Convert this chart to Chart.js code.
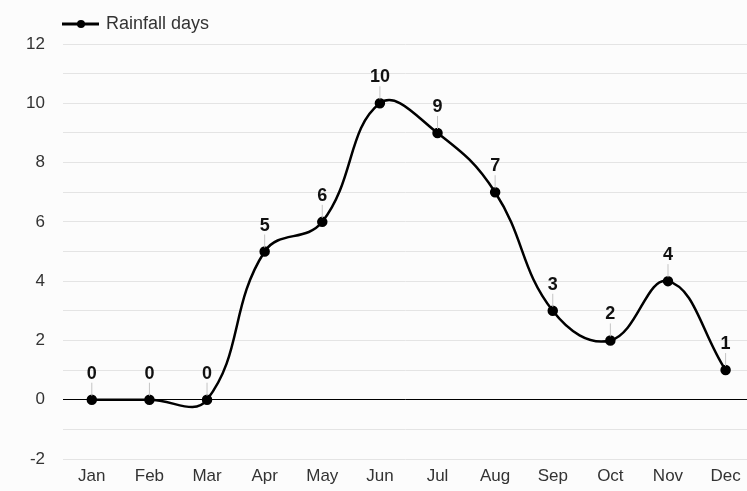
<!DOCTYPE html>
<html lang="en">
<head>
<meta charset="UTF-8">
<title>Rainfall days</title>
<script src="https://cdn.jsdelivr.net/npm/chart.js"></script>
<style>
  html, body { margin: 0; padding: 0; background: #fcfcfc; overflow: hidden; }
  #wrap { width: 747px; height: 491px; overflow: hidden; }
</style>
</head>
<body>
<div id="wrap"><canvas id="chart" width="754" height="491"></canvas></div>
<script>
// data
const months = ['Jan', 'Feb', 'Mar', 'Apr', 'May', 'Jun', 'Jul', 'Aug', 'Sep', 'Oct', 'Nov', 'Dec'];
const rainfallDays = [0, 0, 0, 5, 6, 10, 9, 7, 3, 2, 4, 1];
const seriesLabel = 'Rainfall days';

const FONT = '"Liberation Sans", Arial, sans-serif';

// value labels with a little gray stick above each point
const valueLabels = {
  id: 'valueLabels',
  afterDatasetsDraw(chart) {
    const c = chart.ctx;
    const meta = chart.getDatasetMeta(0);
    c.save();
    meta.data.forEach((pt, i) => {
      c.strokeStyle = '#c4c4c4';
      c.lineWidth = 1;
      c.beginPath();
      c.moveTo(pt.x, pt.y - 4);
      c.lineTo(pt.x, pt.y - 17);
      c.stroke();
      c.fillStyle = '#111';
      c.font = 'bold 18px ' + FONT;
      c.textAlign = 'center';
      c.textBaseline = 'alphabetic';
      c.fillText(String(rainfallDays[i]), pt.x, pt.y - 21);
    });
    c.restore();
  }
};

// legend drawn by hand: line with a dot, then the label
const miniLegend = {
  id: 'miniLegend',
  afterDraw(chart) {
    const c = chart.ctx;
    c.save();
    c.strokeStyle = '#000';
    c.lineWidth = 3;
    c.beginPath();
    c.moveTo(62, 24);
    c.lineTo(99, 24);
    c.stroke();
    c.fillStyle = '#000';
    c.beginPath();
    c.arc(81, 24, 4, 0, Math.PI * 2);
    c.fill();
    c.fillStyle = '#333';
    c.font = '18px ' + FONT;
    c.textBaseline = 'middle';
    c.fillText(seriesLabel, 106, 24);
    c.restore();
  }
};

new Chart(document.getElementById('chart'), {
  type: 'line',
  data: {
    datasets: [{
      label: seriesLabel,
      data: rainfallDays.map((v, i) => ({ x: i, y: v })),
      borderColor: '#000',
      backgroundColor: '#000',
      borderWidth: 2.5,
      tension: 0.42,
      pointRadius: 4,
      pointHoverRadius: 4,
      fill: false
    }]
  },
  options: {
    responsive: false,
    animation: false,
    events: [],
    layout: { padding: { top: 44, right: 0, left: 0, bottom: 0 } },
    plugins: { legend: { display: false }, tooltip: { enabled: false } },
    scales: {
      x: {
        type: 'linear',
        min: -0.5,
        max: 11.38,
        afterBuildTicks(axis) {
          axis.ticks = months.map((m, i) => ({ value: i }));
        },
        afterFit(axis) {
          axis.height = 32;
        },
        grid: { display: false, drawTicks: false },
        border: { display: false },
        ticks: {
          color: '#333',
          font: { family: FONT, size: 17 },
          padding: 7,
          maxRotation: 0,
          callback: v => months[v]
        }
      },
      y: {
        min: -2,
        max: 12,
        afterFit(axis) {
          axis.width = 63;
        },
        grid: {
          drawTicks: false,
          color: ctx => ctx.tick && ctx.tick.value === 0 ? '#000' : '#e4e4e4',
          lineWidth: 1
        },
        border: { display: false },
        ticks: {
          stepSize: 1,
          color: '#333',
          font: { family: FONT, size: 17 },
          padding: 18,
          callback: v => (v % 2 === 0 ? v : '')
        }
      }
    }
  },
  plugins: [valueLabels, miniLegend]
});
</script>
</body>
</html>
